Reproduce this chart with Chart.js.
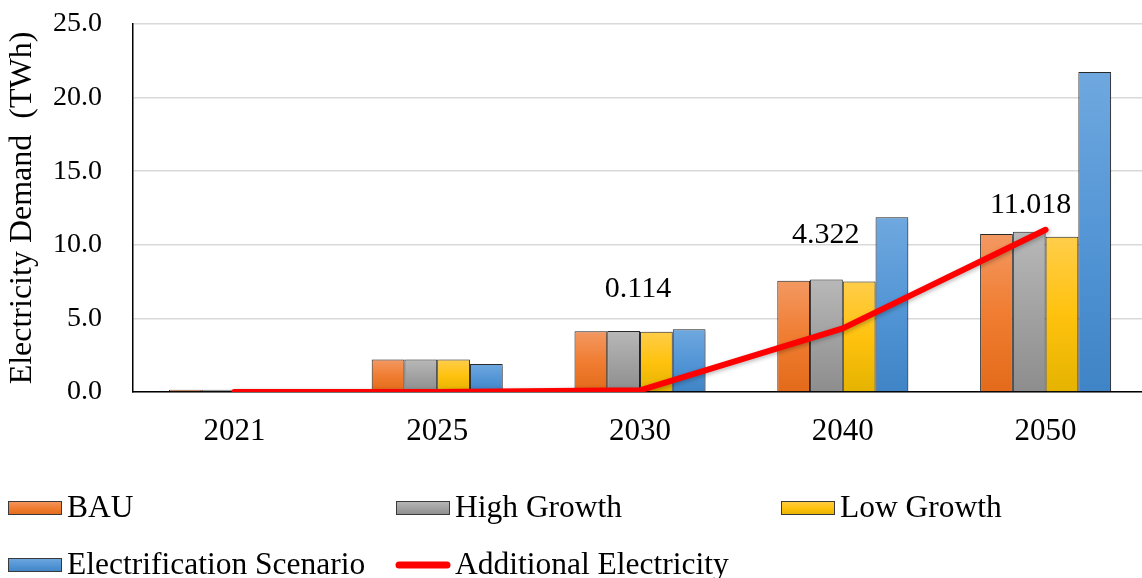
<!DOCTYPE html>
<html>
<head>
<meta charset="utf-8">
<title>Electricity Demand</title>
<script src="https://cdn.jsdelivr.net/npm/chart.js@4.4.1/dist/chart.umd.min.js"></script>
<style>
  html, body { margin: 0; padding: 0; background: #fff; overflow: hidden; }
  #wrap { width: 1150px; height: 578px; position: relative; }
</style>
</head>
<body>
<div id="wrap"><canvas id="demandChart"></canvas></div>
<script>
// --- data ---
const categories = ['2021', '2025', '2030', '2040', '2050'];
const bauDemand = [0.16, 2.2, 4.12, 7.56, 10.73];
const highGrowthDemand = [0.16, 2.2, 4.14, 7.65, 10.89];
const lowGrowthDemand = [0.1, 2.2, 4.1, 7.5, 10.55];
const electrificationDemand = [0.1, 1.9, 4.27, 11.87, 21.74];
const additionalElectricity = [0, 0, 0.114, 4.322, 11.018];
const yTicks = [0, 5, 10, 15, 20, 25];

const FONT = "'Liberation Serif', 'Times New Roman', serif";

// gradient stops per bar colour (top -> bottom)
const palettes = {
  orange: ['#F39862', '#F07D31', '#E36A1A'],
  gray:   ['#B8B8B8', '#A2A2A2', '#8D8D8D'],
  yellow: ['#FFCD4A', '#FFC20E', '#E4B300'],
  blue:   ['#6FA8DF', '#5496D6', '#3F84C6']
};

function barGradient(ctx, top, bottom, stops) {
  const g = ctx.createLinearGradient(0, top, 0, bottom);
  g.addColorStop(0, stops[0]);
  g.addColorStop(0.5, stops[1]);
  g.addColorStop(1, stops[2]);
  return g;
}

// scriptable fill: gradient running over the height of each bar
function barFill(stops) {
  return (context) => {
    const chart = context.chart;
    const y = chart.scales && chart.scales.y;
    if (!chart.chartArea || !y || context.raw === undefined) return stops[1];
    const top = y.getPixelForValue(context.raw);
    const bottom = y.getPixelForValue(0);
    if (bottom - top < 1) return stops[1];
    return barGradient(chart.ctx, top, bottom, stops);
  };
}

function barDataset(label, data, stops) {
  return {
    type: 'bar',
    label: label,
    data: data,
    backgroundColor: barFill(stops),
    borderColor: '#2b2b2b',
    borderWidth: 1,
    borderSkipped: 'bottom',
    swatch: stops,
    order: 1
  };
}

// soft drop shadow under bars and line
const shadowPlugin = {
  id: 'shadow',
  beforeDatasetsDraw(chart) {
    const ctx = chart.ctx;
    ctx.save();
    ctx.shadowColor = 'rgba(0,0,0,0.28)';
    ctx.shadowBlur = 4;
    ctx.shadowOffsetX = 1.5;
    ctx.shadowOffsetY = 1.5;
  },
  afterDatasetsDraw(chart) {
    chart.ctx.restore();
  }
};

// value labels on the additional electricity line
const lineLabelPlugin = {
  id: 'lineLabels',
  afterDatasetsDraw(chart, args, opts) {
    const ctx = chart.ctx;
    chart.data.datasets.forEach((ds, i) => {
      if (ds.type !== 'line') return;
      const meta = chart.getDatasetMeta(i);
      meta.data.forEach((pt, j) => {
        const v = ds.data[j];
        if (!v) return;
        const off = opts.offsets[j] || [0, -20];
        ctx.save();
        ctx.shadowColor = 'transparent';
        ctx.font = '30px ' + FONT;
        ctx.fillStyle = '#000';
        ctx.textAlign = 'center';
        ctx.textBaseline = 'middle';
        ctx.fillText(v.toFixed(3), pt.x + off[0], pt.y + off[1]);
        ctx.restore();
      });
    });
  }
};

// legend drawn in three columns under the plot
const gridLegendPlugin = {
  id: 'gridLegend',
  afterDraw(chart, args, opts) {
    const ctx = chart.ctx;
    ctx.save();
    ctx.font = '31.5px ' + FONT;
    ctx.textBaseline = 'middle';
    ctx.textAlign = 'left';
    chart.data.datasets.forEach((ds, i) => {
      const col = i % opts.columns.length;
      const row = Math.floor(i / opts.columns.length);
      const x = opts.columns[col];
      const y = opts.rows[row];
      if (ds.type === 'line') {
        ctx.strokeStyle = ds.borderColor;
        ctx.lineWidth = 7;
        ctx.lineCap = 'round';
        ctx.beginPath();
        ctx.moveTo(x + 3, y);
        ctx.lineTo(x + opts.boxWidth - 3, y);
        ctx.stroke();
      } else {
        const top = y - opts.boxHeight / 2;
        ctx.fillStyle = barGradient(ctx, top, top + opts.boxHeight, ds.swatch);
        ctx.fillRect(x, top, opts.boxWidth, opts.boxHeight);
        ctx.strokeStyle = '#3a3a3a';
        ctx.lineWidth = 1;
        ctx.strokeRect(x + 0.5, top + 0.5, opts.boxWidth - 1, opts.boxHeight - 1);
      }
      ctx.fillStyle = '#000';
      ctx.fillText(ds.label, x + opts.boxWidth + 5, y + 1);
    });
    ctx.restore();
  }
};

const chart = new Chart(document.getElementById('demandChart'), {
  data: {
    labels: categories,
    datasets: [
      barDataset('BAU', bauDemand, palettes.orange),
      barDataset('High Growth', highGrowthDemand, palettes.gray),
      barDataset('Low Growth', lowGrowthDemand, palettes.yellow),
      barDataset('Electrification Scenario', electrificationDemand, palettes.blue),
      {
        type: 'line',
        label: 'Additional Electricity',
        data: additionalElectricity,
        borderColor: '#FF0000',
        borderWidth: 6,
        borderCapStyle: 'round',
        borderJoinStyle: 'round',
        pointRadius: 0,
        tension: 0,
        fill: false,
        order: 0
      }
    ]
  },
  options: {
    responsive: true,
    maintainAspectRatio: false,
    animation: false,
    layout: { padding: { top: 24, right: 3, left: 0, bottom: 0 } },
    datasets: {
      bar: { categoryPercentage: 0.646, barPercentage: 1 }
    },
    plugins: {
      legend: { display: false },
      tooltip: { enabled: false },
      lineLabels: { offsets: [null, null, [-2, -101], [-17, -93], [-15, -25]] },
      gridLegend: {
        columns: [8, 396, 781],
        rows: [508, 565],
        boxWidth: 54,
        boxHeight: 14
      }
    },
    scales: {
      x: {
        offset: true,
        grid: { display: false, drawTicks: false },
        border: { color: '#000', width: 1.5 },
        ticks: { color: '#000', padding: 21, font: { family: FONT, size: 31 } },
        afterFit: (scale) => { scale.height = 186; }
      },
      y: {
        min: 0,
        max: 25,
        afterBuildTicks: (scale) => { scale.ticks = yTicks.map(v => ({ value: v })); },
        grid: { color: '#D9D9D9', lineWidth: 1.5, drawTicks: false },
        border: { color: '#000', width: 1.5 },
        ticks: {
          color: '#000',
          padding: 31,
          font: { family: FONT, size: 28 },
          callback: (v) => Number(v).toFixed(1)
        },
        title: {
          display: true,
          text: 'Electricity Demand  (TWh)',
          color: '#000',
          padding: { top: 3, bottom: 0 },
          font: { family: FONT, size: 32 }
        },
        afterFit: (scale) => {
          scale.width = 133;
          // tick padding would otherwise push the plot top down
          scale.paddingTop = 0;
          scale.paddingBottom = 0;
        }
      }
    }
  },
  plugins: [shadowPlugin, lineLabelPlugin, gridLegendPlugin]
});
</script>
</body>
</html>
